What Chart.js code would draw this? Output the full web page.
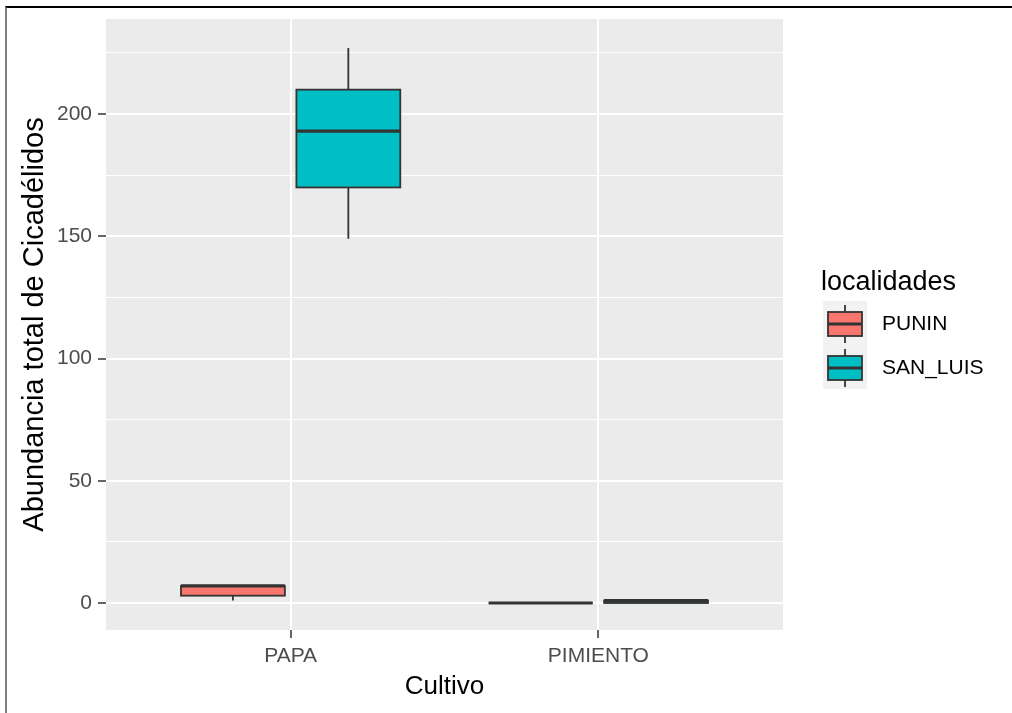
<!DOCTYPE html>
<html>
<head>
<meta charset="utf-8">
<script src="https://cdn.jsdelivr.net/npm/chart.js@4.4.1/dist/chart.umd.min.js"></script>
<style>
  html, body { margin: 0; padding: 0; background: #fff; }
  #wrap { position: relative; width: 1012px; height: 713px; }
  #frame { position: absolute; left: 5px; top: 6px; right: 0; bottom: 0;
           border-top: 2px solid #000; border-left: 2px solid #808080; pointer-events: none; }
</style>
</head>
<body>
<div id="wrap">
  <canvas id="chart" width="1012" height="713"></canvas>
  <div id="frame"></div>
</div>
<script>
// Data
const cultivos = ['PAPA', 'PIMIENTO'];
const localidades = ['PUNIN', 'SAN_LUIS'];
const colores = ['#F8766D', '#00BFC4'];
// five-number summaries per cultivo: [min, q1, median, q3, max]
const puninStats = [[1, 3, 7, 7, 7], [0, 0, 0, 0, 0]];
const sanLuisStats = [[149, 170, 193, 210, 227], [0, 0, 1, 1, 1]];
const yMajor = [0, 50, 100, 150, 200];
const yMinor = [25, 75, 125, 175, 225];

const FONT = "'Liberation Sans', Arial, sans-serif";
const dodge = [-0.1875, 0.1875];
const halfW = 0.16875;

const datasets = [puninStats, sanLuisStats].map((stats, k) => ({
  label: localidades[k],
  backgroundColor: colores[k],
  stats: stats,
  pointRadius: 0,
  data: stats.map((s, i) => ({ x: i + 1 + dodge[k], y: s[2] }))
}));

function drawBox(ctx, x0, x1, yMin, yQ1, yMed, yQ3, yMax, fill) {
  const xc = (x0 + x1) / 2;
  ctx.strokeStyle = '#333333';
  ctx.lineWidth = 1.8;
  ctx.beginPath();
  ctx.moveTo(xc, yQ3); ctx.lineTo(xc, yMax);
  ctx.moveTo(xc, yQ1); ctx.lineTo(xc, yMin);
  ctx.stroke();
  ctx.fillStyle = fill;
  ctx.fillRect(x0, yQ3, x1 - x0, yQ1 - yQ3);
  ctx.strokeRect(x0, yQ3, x1 - x0, yQ1 - yQ3);
  ctx.lineWidth = 3.2;
  ctx.beginPath();
  ctx.moveTo(x0, yMed); ctx.lineTo(x1, yMed);
  ctx.stroke();
}

const boxplotPlugin = {
  id: 'boxplot',
  beforeDraw(chart) {
    const { ctx, chartArea: a } = chart;
    ctx.save();
    ctx.fillStyle = '#EBEBEB';
    ctx.fillRect(a.left, a.top, a.right - a.left, a.bottom - a.top);
    ctx.restore();
  },
  afterDatasetsDraw(chart) {
    const { ctx, scales: { x, y } } = chart;
    ctx.save();
    chart.data.datasets.forEach(ds => {
      ds.stats.forEach((s, i) => {
        const xv = ds.data[i].x;
        drawBox(ctx, x.getPixelForValue(xv - halfW), x.getPixelForValue(xv + halfW),
          y.getPixelForValue(s[0]), y.getPixelForValue(s[1]), y.getPixelForValue(s[2]),
          y.getPixelForValue(s[3]), y.getPixelForValue(s[4]), ds.backgroundColor);
      });
    });
    ctx.restore();
  },
  afterDraw(chart) {
    // legend
    const ctx = chart.ctx;
    ctx.save();
    ctx.fillStyle = '#000';
    ctx.font = '27px ' + FONT;
    ctx.textBaseline = 'middle';
    ctx.fillText('localidades', 821, 283);
    chart.data.datasets.forEach((ds, k) => {
      const top = 301 + 44 * k;
      ctx.fillStyle = '#F2F2F2';
      ctx.fillRect(823, top, 44, 44);
      const cy = top + 23;
      drawBox(ctx, 828, 862, cy + 19, cy + 12, cy, cy - 12, cy - 19, ds.backgroundColor);
      ctx.fillStyle = '#000';
      ctx.font = '21px ' + FONT;
      ctx.fillText(ds.label, 882, cy);
    });
    ctx.restore();
  }
};

new Chart(document.getElementById('chart'), {
  type: 'scatter',
  data: { datasets: datasets },
  plugins: [boxplotPlugin],
  options: {
    responsive: false,
    animation: false,
    devicePixelRatio: 1,
    layout: { padding: { top: 19, right: 229, left: 0, bottom: 0 } },
    plugins: { legend: { display: false }, tooltip: { enabled: false } },
    scales: {
      x: {
        type: 'linear',
        min: 0.4,
        max: 2.6,
        afterBuildTicks: s => { s.ticks = cultivos.map((c, i) => ({ value: i + 1 })); },
        afterFit: s => { s.height = 83; },
        border: { display: false },
        grid: { color: '#FFFFFF', lineWidth: 2, tickColor: '#333333', tickLength: 8, tickWidth: 1.5 },
        ticks: {
          padding: 6,
          color: '#4D4D4D',
          font: { family: FONT, size: 21 },
          maxRotation: 0,
          callback: v => cultivos[Math.round(v) - 1]
        },
        title: {
          display: true, text: 'Cultivo', color: '#000',
          font: { family: FONT, size: 26 }, padding: { top: 0, bottom: 11 }
        }
      },
      y: {
        type: 'linear',
        min: -11.04,
        max: 238.9,
        afterBuildTicks: s => {
          s.ticks = yMajor.concat(yMinor).sort((a, b) => a - b).map(v => ({ value: v }));
        },
        afterFit: s => { s.width = 106; },
        border: { display: false },
        grid: {
          color: '#FFFFFF',
          lineWidth: c => (yMajor.includes(c.tick.value) ? 2 : 1),
          tickColor: c => (yMajor.includes(c.tick.value) ? '#333333' : 'rgba(0,0,0,0)'),
          tickLength: 8,
          tickWidth: 1.5
        },
        ticks: {
          padding: 6,
          color: '#4D4D4D',
          font: { family: FONT, size: 21 },
          callback: v => (yMajor.includes(v) ? String(v) : '')
        },
        title: {
          display: true, text: 'Abundancia total de Cicadélidos', color: '#000',
          font: { family: FONT, size: 29 }, padding: { top: 18, bottom: 0 }
        }
      }
    }
  }
});
</script>
</body>
</html>
